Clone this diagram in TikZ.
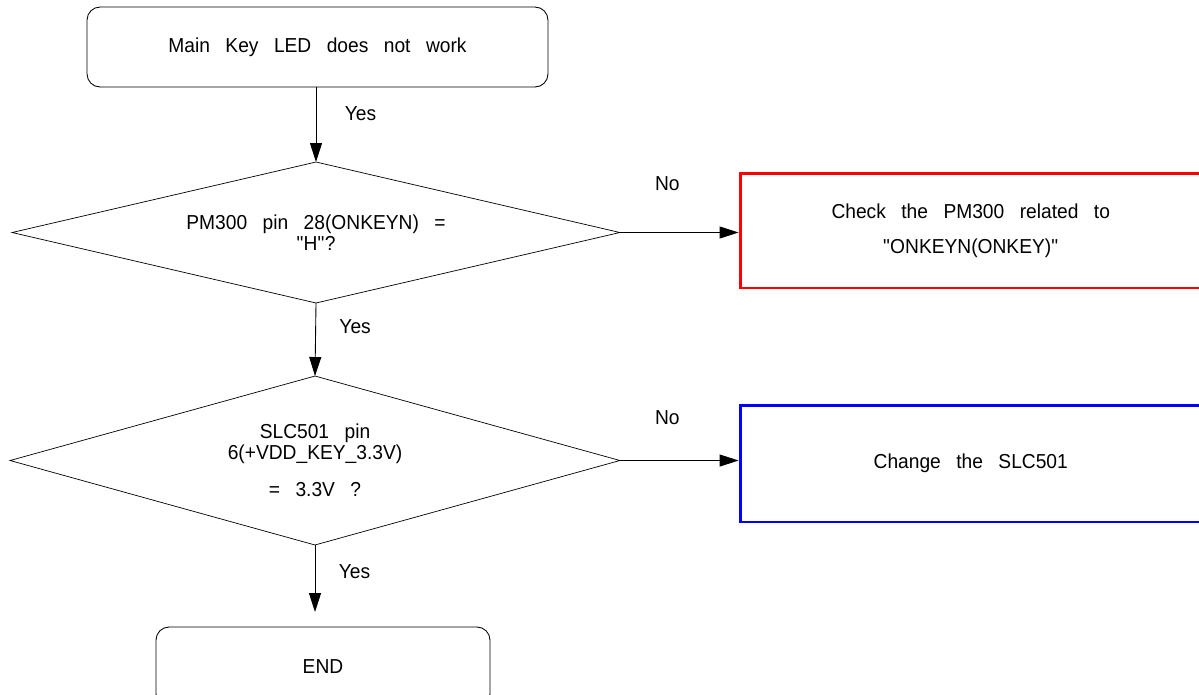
\documentclass[tikz,border=0pt]{standalone}
\usepackage{fontspec}
\setmainfont[WordSpace=2.9, FakeStretch=0.95]{Liberation Sans}
\usepackage{xcolor}
\usetikzlibrary{shapes.geometric,arrows.meta,positioning}
\definecolor{chkred}{RGB}{255,0,0}
\definecolor{chgblue}{RGB}{0,0,255}

\begin{document}
\begin{tikzpicture}[x=0.02cm, y=-0.02cm,
  %% styles
  term/.style={rectangle, rounded corners=0.26cm, draw=black, line width=0.5pt,
               minimum width=#1, minimum height=1.6cm, outer sep=0pt,
               font=\fontsize{11.5}{12}\selectfont},
  dec/.style={diamond, draw=black, line width=0.4pt, inner sep=0pt, outer sep=0pt,
              align=center, font=\fontsize{11.5}{11.6}\selectfont},
  act/.style={rectangle, draw=#1, line width=1.7pt,
              minimum width=9.23cm, align=center,
              font=\fontsize{11.5}{13}\selectfont},
  arr/.style={-{Triangle[length=0.38cm,width=0.24cm]}, draw=black, line width=0.5pt},
  lbl/.style={font=\fontsize{11.5}{12}\selectfont},
]
\useasboundingbox (0,0) rectangle (1199,694);

%% ------ nodes ---------------------------------------------------------
\node[term=9.22cm] (start) at (317.5,47) {Main Key LED does not work};

\node[dec, minimum width=12.16cm, minimum height=2.82cm, aspect=4.31] (pin28) at (316,232.5)
  {PM300 pin 28(ONKEYN) =\\\textquotedbl H\textquotedbl?};

\node[act=chkred, minimum height=2.3cm] (chkpm) at (970.75,230.5)
  {Check the PM300 related to\\[7pt]\textquotedbl ONKEYN(ONKEY)\textquotedbl};

\node[dec, minimum width=12.2cm, minimum height=3.38cm, aspect=3.61] (pin6) at (315,460.5)
  {SLC501 pin\\6(+VDD\_KEY\_3.3V)\\[0.34cm]= 3.3V ?};

\node[act=chgblue, minimum height=2.34cm] (chgslc) at (970.75,463.5)
  {Change the SLC501};

\node[term=6.68cm] (fin) at (323,667) {END};

%% ------ flows ---------------------------------------------------------
\draw[arr] (start.south -| pin28.north) -- node[lbl, pos=0.36, anchor=west, xshift=0.45cm]{Yes} (pin28.north);
\draw[arr] (pin28.east) -- node[lbl, pos=0.4, above=0.72cm]{No} (chkpm.west |- pin28.east);

\draw[arr] (pin28.south) -- node[lbl, pos=0.33, anchor=west, xshift=0.35cm]{Yes} (pin6.north);
\draw[arr] (pin6.east) -- node[lbl, pos=0.4, above=0.6cm]{No} (chgslc.west |- pin6.east);

\draw[arr, shorten >=0.3cm] (pin6.south) -- node[lbl, pos=0.33, anchor=west, xshift=0.35cm]{Yes} (fin.north -| pin6.south);

\end{tikzpicture}
\end{document}
